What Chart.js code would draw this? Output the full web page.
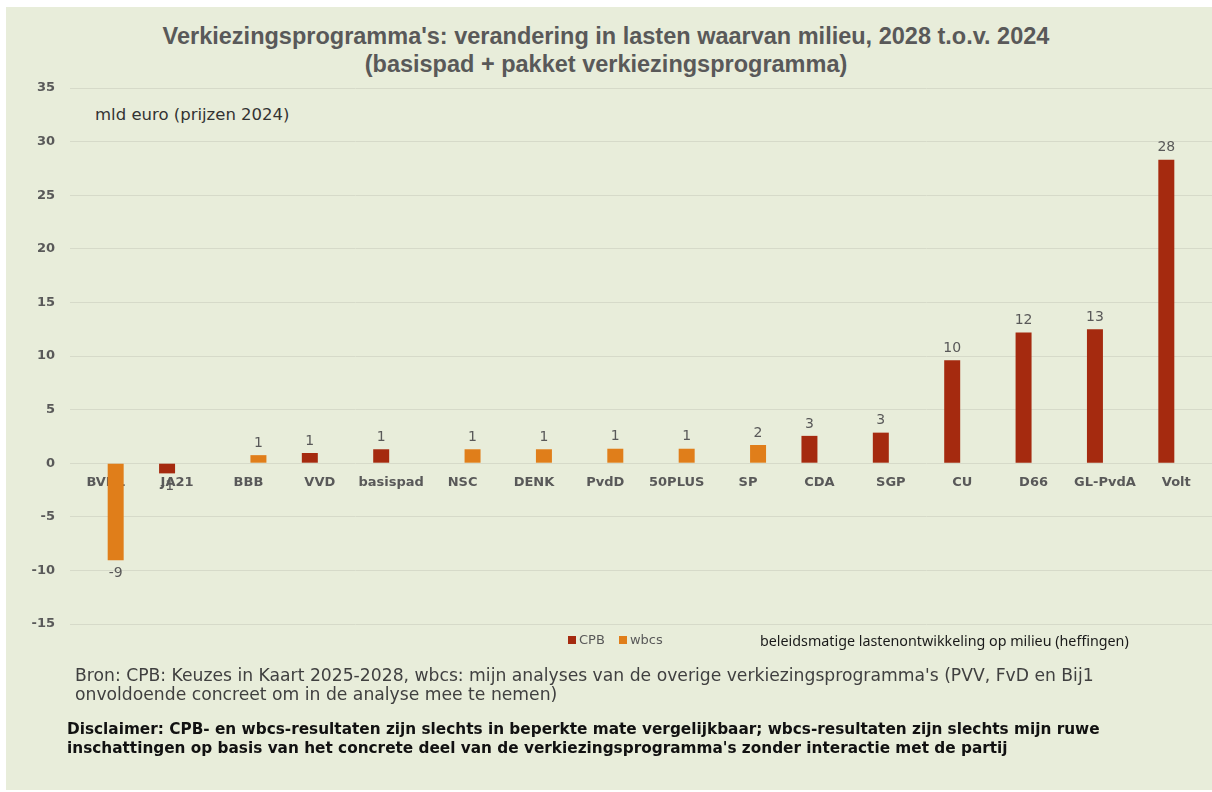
<!DOCTYPE html>
<html lang="nl">
<head>
<meta charset="UTF-8">
<title>Verkiezingsprogramma's: lasten milieu</title>
<script src="https://cdn.jsdelivr.net/npm/chart.js"></script>
<style>
    body { margin: 0; background: #ffffff; width: 1212px; height: 792px; overflow: hidden; position: relative; }
    .panel { position: absolute; left: 6px; top: 7px; width: 1206px; height: 783px; background: #e8edda; }
    .chart-box { position: absolute; left: 0; top: 0; width: 1212px; height: 792px; }
    .title { position: absolute; left: 0; width: 1212px; text-align: center; font-family: "Liberation Sans", Arial, sans-serif;
             font-weight: bold; font-size: 23.5px; color: #595959; line-height: 28px; top: 22px; }
    .unit { position: absolute; left: 95px; top: 105px; font-family: "DejaVu Sans", sans-serif; font-size: 16.5px; color: #333; }
    .legend { position: absolute; left: 568px; top: 632px; font-family: "DejaVu Sans", sans-serif; font-size: 13px; color: #595959; }
    .legend span.sq { display: inline-block; width: 8px; height: 8px; margin-right: 3px; }
    .legend span.item { margin-right: 10px; }
    .note { position: absolute; left: 760px; top: 631px; font-family: "Noto Sans", sans-serif; font-size: 14.3px; color: #1a1a1a; }
    .source { position: absolute; left: 75px; top: 666px; width: 1100px; font-family: "DejaVu Sans", sans-serif; font-size: 17.2px;
              line-height: 19px; color: #404040; }
    .disclaimer { position: absolute; left: 67px; top: 720px; width: 1100px; font-family: "DejaVu Sans", sans-serif; font-weight: bold;
                  font-size: 15.3px; line-height: 19px; color: #111; }
</style>
</head>
<body>
<div class="panel"></div>
<div class="title">Verkiezingsprogramma's: verandering in lasten waarvan milieu, 2028 t.o.v. 2024<br>(basispad + pakket verkiezingsprogramma)</div>
<div class="unit">mld euro (prijzen 2024)</div>
<div class="chart-box"><canvas id="chart"></canvas></div>
<div class="legend">
    <span class="item"><span class="sq" style="background:#a52a0f"></span>CPB</span>
    <span class="item"><span class="sq" style="background:#e07e1a"></span>wbcs</span>
</div>
<div class="note">beleidsmatige lastenontwikkeling op milieu (heffingen)</div>
<div class="source">Bron: CPB: Keuzes in Kaart 2025-2028, wbcs: mijn analyses van de overige verkiezingsprogramma's (PVV, FvD en Bij1<br>onvoldoende concreet om in de analyse mee te nemen)</div>
<div class="disclaimer">Disclaimer: CPB- en wbcs-resultaten zijn slechts in beperkte mate vergelijkbaar; wbcs-resultaten zijn slechts mijn ruwe<br>inschattingen op basis van het concrete deel van de verkiezingsprogramma's zonder interactie met de partij</div>

<script>
    const parties = ['BVNL', 'JA21', 'BBB', 'VVD', 'basispad', 'NSC', 'DENK', 'PvdD', '50PLUS', 'SP', 'CDA', 'SGP', 'CU', 'D66', 'GL-PvdA', 'Volt'];
    const cpbValues = [null, -0.95, null, 0.95, 1.3, null, null, null, null, null, 2.55, 2.85, 9.6, 12.2, 12.5, 28.3];
    const wbcsValues = [-9.05, null, 0.75, null, null, 1.3, 1.3, 1.35, 1.35, 1.7, null, null, null, null, null, null];

    // value labels above (or below) each bar, rounded like the original
    const valueLabels = {
        id: 'valueLabels',
        afterDatasetsDraw(chart) {
            const ctx = chart.ctx;
            ctx.save();
            ctx.font = '14px "DejaVu Sans", sans-serif';
            ctx.fillStyle = '#595959';
            ctx.textAlign = 'center';
            chart.data.datasets.forEach((ds, i) => {
                const meta = chart.getDatasetMeta(i);
                meta.data.forEach((bar, j) => {
                    const v = ds.data[j];
                    if (v === null) return;
                    const txt = String(Math.round(v));
                    if (v >= 0) {
                        ctx.textBaseline = 'bottom';
                        ctx.fillText(txt, bar.x, bar.y - 5);
                    } else {
                        ctx.textBaseline = 'top';
                        ctx.fillText(txt, bar.x, bar.y + 6);
                    }
                });
            });
            ctx.restore();
        }
    };

    const ctx = document.getElementById('chart').getContext('2d');
    new Chart(ctx, {
        type: 'bar',
        data: {
            labels: parties,
            datasets: [
                { label: 'CPB', data: cpbValues, backgroundColor: '#a52a0f' },
                { label: 'wbcs', data: wbcsValues, backgroundColor: '#e07e1a' }
            ]
        },
        options: {
            responsive: true,
            maintainAspectRatio: false,
            animation: false,
            categoryPercentage: 0.56,
            barPercentage: 0.8,
            layout: { padding: { top: 88, bottom: 168, left: 0, right: 0 } },
            plugins: {
                legend: { display: false },
                tooltip: { enabled: false }
            },
            scales: {
                x: {
                    position: { y: 0 },
                    z: 1,
                    grid: { display: false, drawTicks: false },
                    border: { display: false },
                    ticks: {
                        padding: 12,
                        color: '#595959',
                        font: { family: 'DejaVu Sans', weight: 'bold', size: 13 },
                        maxRotation: 0,
                        autoSkip: false
                    }
                },
                y: {
                    min: -15,
                    max: 35,
                    afterFit(scale) { scale.width = 70; },
                    grid: { color: '#d6dac9', drawTicks: false },
                    border: { display: false },
                    ticks: {
                        stepSize: 5,
                        padding: 15,
                        color: '#595959',
                        font: { family: 'DejaVu Sans', weight: 'bold', size: 13 }
                    }
                }
            }
        },
        plugins: [valueLabels]
    });
</script>
</body>
</html>
